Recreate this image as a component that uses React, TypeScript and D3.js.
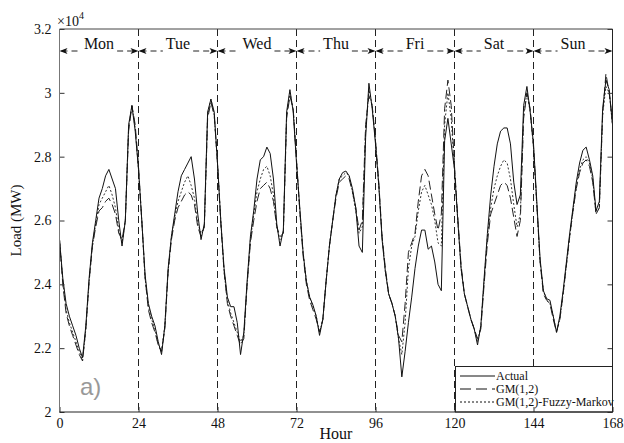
import { useEffect, useRef } from "react";
import * as d3 from "d3";

const days = ["Mon", "Tue", "Wed", "Thu", "Fri", "Sat", "Sun"];
const xTicks = [0, 24, 48, 72, 96, 120, 144, 168];
const yTicks = [2, 2.2, 2.4, 2.6, 2.8, 3, 3.2];
const seriesNames = ["Actual", "GM(1,2)", "GM(1,2)-Fuzzy-Markov"];

// hourly load in 10^4 MW, hour 0 .. 168
const actual = [
  2.54, 2.42, 2.34, 2.30, 2.27, 2.24, 2.20, 2.17, 2.27, 2.42, 2.53, 2.60, 2.67, 2.70, 2.74, 2.76, 2.73, 2.70, 2.60, 2.52, 2.60, 2.90, 2.96, 2.88,
  2.76, 2.60, 2.43, 2.34, 2.30, 2.27, 2.22, 2.18, 2.27, 2.45, 2.55, 2.62, 2.69, 2.74, 2.76, 2.78, 2.80, 2.73, 2.62, 2.54, 2.59, 2.94, 2.98, 2.94,
  2.78, 2.60, 2.45, 2.36, 2.33, 2.33, 2.28, 2.18, 2.25, 2.41, 2.55, 2.63, 2.73, 2.79, 2.80, 2.83, 2.81, 2.73, 2.59, 2.52, 2.57, 2.94, 3.01, 2.94,
  2.78, 2.64, 2.50, 2.41, 2.36, 2.335, 2.30, 2.24, 2.29, 2.41, 2.52, 2.60, 2.68, 2.73, 2.75, 2.755, 2.74, 2.70, 2.64, 2.52, 2.50, 2.86, 3.03, 2.95,
  2.84, 2.71, 2.54, 2.44, 2.37, 2.34, 2.30, 2.23, 2.11, 2.19, 2.28, 2.36, 2.45, 2.52, 2.57, 2.57, 2.51, 2.52, 2.47, 2.40, 2.38, 2.85, 2.92, 2.84,
  2.76, 2.60, 2.45, 2.37, 2.33, 2.29, 2.26, 2.21, 2.27, 2.42, 2.56, 2.68, 2.77, 2.84, 2.88, 2.89, 2.89, 2.84, 2.72, 2.65, 2.68, 2.96, 3.02, 2.94,
  2.84, 2.66, 2.48, 2.38, 2.355, 2.35, 2.30, 2.25, 2.30, 2.38, 2.47, 2.56, 2.64, 2.72, 2.78, 2.82, 2.83, 2.79, 2.74, 2.63, 2.66, 2.95, 3.04, 3.01,
  2.90,
];

const gm12 = [
  2.54, 2.40, 2.31, 2.27, 2.24, 2.21, 2.18, 2.16, 2.26, 2.41, 2.52, 2.58, 2.63, 2.64, 2.66, 2.67, 2.65, 2.62, 2.56, 2.54, 2.60, 2.88, 2.96, 2.90,
  2.77, 2.60, 2.42, 2.32, 2.28, 2.25, 2.21, 2.19, 2.26, 2.44, 2.54, 2.60, 2.64, 2.66, 2.68, 2.69, 2.68, 2.65, 2.58, 2.55, 2.58, 2.92, 2.97, 2.93,
  2.78, 2.59, 2.44, 2.34, 2.30, 2.27, 2.24, 2.21, 2.23, 2.40, 2.53, 2.60, 2.66, 2.70, 2.71, 2.72, 2.70, 2.66, 2.58, 2.55, 2.56, 2.92, 2.99, 2.95,
  2.79, 2.63, 2.49, 2.40, 2.35, 2.32, 2.29, 2.25, 2.29, 2.41, 2.52, 2.60, 2.67, 2.72, 2.73, 2.74, 2.73, 2.69, 2.64, 2.57, 2.60, 2.90, 2.99, 2.96,
  2.85, 2.72, 2.55, 2.45, 2.37, 2.34, 2.30, 2.24, 2.22, 2.34, 2.50, 2.53, 2.56, 2.66, 2.74, 2.76, 2.74, 2.68, 2.62, 2.57, 2.62, 2.95, 3.04, 2.96,
  2.77, 2.61, 2.46, 2.37, 2.33, 2.29, 2.26, 2.23, 2.26, 2.40, 2.53, 2.62, 2.65, 2.68, 2.71, 2.72, 2.71, 2.67, 2.61, 2.55, 2.60, 2.92, 3.00, 2.95,
  2.83, 2.65, 2.47, 2.37, 2.35, 2.34, 2.29, 2.25, 2.29, 2.37, 2.46, 2.55, 2.63, 2.70, 2.75, 2.78, 2.79, 2.77, 2.72, 2.62, 2.64, 2.93, 3.06, 3.00,
  2.91,
];

const gmFuzzyMarkov = [
  2.54, 2.41, 2.32, 2.28, 2.25, 2.22, 2.19, 2.16, 2.26, 2.41, 2.52, 2.59, 2.65, 2.67, 2.69, 2.71, 2.68, 2.64, 2.57, 2.53, 2.60, 2.89, 2.96, 2.89,
  2.76, 2.60, 2.42, 2.33, 2.29, 2.26, 2.21, 2.19, 2.27, 2.44, 2.55, 2.61, 2.66, 2.69, 2.72, 2.74, 2.71, 2.67, 2.59, 2.56, 2.58, 2.93, 2.98, 2.93,
  2.78, 2.60, 2.44, 2.35, 2.31, 2.28, 2.25, 2.22, 2.24, 2.40, 2.54, 2.62, 2.69, 2.73, 2.76, 2.77, 2.74, 2.68, 2.58, 2.54, 2.56, 2.93, 3.00, 2.95,
  2.79, 2.63, 2.50, 2.41, 2.36, 2.33, 2.30, 2.25, 2.29, 2.41, 2.52, 2.60, 2.68, 2.73, 2.74, 2.75, 2.74, 2.69, 2.63, 2.56, 2.58, 2.88, 3.01, 2.96,
  2.85, 2.71, 2.55, 2.44, 2.37, 2.34, 2.30, 2.23, 2.18, 2.28, 2.45, 2.52, 2.55, 2.63, 2.69, 2.71, 2.68, 2.65, 2.60, 2.53, 2.52, 2.90, 3.00, 2.92,
  2.76, 2.60, 2.45, 2.37, 2.33, 2.29, 2.26, 2.22, 2.27, 2.41, 2.55, 2.64, 2.70, 2.74, 2.77, 2.79, 2.78, 2.73, 2.65, 2.58, 2.62, 2.93, 3.00, 2.94,
  2.83, 2.65, 2.47, 2.38, 2.35, 2.34, 2.30, 2.25, 2.29, 2.37, 2.46, 2.55, 2.63, 2.71, 2.76, 2.79, 2.80, 2.78, 2.73, 2.62, 2.64, 2.93, 3.02, 3.00,
  2.90,
];

const serif = "'Liberation Serif', 'Times New Roman', serif";

export default function App() {
  const svgRef = useRef<SVGSVGElement>(null);

  useEffect(() => {
    if (!svgRef.current) return;
    const svg = d3.select(svgRef.current);
    svg.selectAll("*").remove();

    const W = 624, H = 443;
    const margin = { top: 29, right: 11.5, bottom: 31, left: 59.5 };

    const x = d3.scaleLinear().domain([0, 168]).range([margin.left, W - margin.right]);
    const y = d3.scaleLinear().domain([2, 3.2]).range([H - margin.bottom, margin.top]);

    const x0 = x(0), x1 = x(168), yTop = y(3.2), yBot = y(2);

    // day dividers
    svg.append("g")
      .selectAll("line")
      .data(xTicks.slice(1, -1))
      .enter()
      .append("line")
      .attr("x1", d => x(d)).attr("x2", d => x(d))
      .attr("y1", yTop).attr("y2", yBot)
      .attr("stroke", "#222")
      .attr("stroke-width", 1)
      .attr("stroke-dasharray", "7,4");

    // day labels with double arrows
    const yA = 51;
    const dayG = svg.append("g");
    days.forEach((name, i) => {
      const a = x(i * 24), b = x((i + 1) * 24);
      const cx = (a + b) / 2;
      const t = dayG.append("text")
        .attr("x", cx).attr("y", yA - 2)
        .attr("text-anchor", "middle")
        .attr("font-family", serif)
        .attr("font-size", 16)
        .attr("fill", "#111")
        .text(name);
      const tw = (t.node() as SVGTextElement).getComputedTextLength();
      const segs = [[a + 2, cx - tw / 2 - 3], [cx + tw / 2 + 3, b - 2]];
      segs.forEach(([s, e]) => {
        dayG.append("line")
          .attr("x1", s).attr("x2", e)
          .attr("y1", yA).attr("y2", yA)
          .attr("stroke", "#222")
          .attr("stroke-dasharray", "6,4");
      });
      // arrowheads
      dayG.append("path")
        .attr("d", `M${a},${yA} L${a + 8},${yA - 3} L${a + 6},${yA} L${a + 8},${yA + 3} Z`)
        .attr("fill", "#111");
      dayG.append("path")
        .attr("d", `M${b},${yA} L${b - 8},${yA - 3} L${b - 6},${yA} L${b - 8},${yA + 3} Z`)
        .attr("fill", "#111");
    });

    // series
    const line = d3.line<number>()
      .x((d, i) => x(i))
      .y(d => y(d));

    const styles = [
      { data: gmFuzzyMarkov, dash: "2,2", color: "#333" },
      { data: gm12, dash: "9,4", color: "#222" },
      { data: actual, dash: null, color: "#111" },
    ];
    styles.forEach(s => {
      svg.append("path")
        .datum(s.data)
        .attr("fill", "none")
        .attr("stroke", s.color)
        .attr("stroke-width", 1)
        .attr("stroke-dasharray", s.dash)
        .attr("stroke-linejoin", "round")
        .attr("d", line);
    });

    // "a)" tag
    svg.append("text")
      .attr("x", 80).attr("y", 395)
      .attr("font-family", "'Liberation Sans', Arial, sans-serif")
      .attr("font-size", 24)
      .attr("fill", "#999")
      .text("a)");

    // legend
    const lg = svg.append("g");
    lg.append("rect")
      .attr("x", 455.5).attr("y", 366.5)
      .attr("width", x1 - 455.5).attr("height", yBot - 366.5)
      .attr("fill", "#fff")
      .attr("stroke", "#222");
    const legendDash = [null, "11,5", "2,2"];
    seriesNames.forEach((name, i) => {
      const ly = 376 + i * 13;
      lg.append("line")
        .attr("x1", 460).attr("x2", 495)
        .attr("y1", ly).attr("y2", ly)
        .attr("stroke", "#111")
        .attr("stroke-dasharray", legendDash[i]);
      lg.append("text")
        .attr("x", 496).attr("y", ly + 4)
        .attr("font-family", serif)
        .attr("font-size", 12)
        .attr("fill", "#111")
        .text(name);
    });

    // axes
    const fmt = d3.format(".1~f");
    const yAxis = svg.append("g")
      .attr("transform", `translate(${x0},0)`)
      .call(d3.axisLeft(y).tickValues(yTicks).tickFormat(d => fmt(d as number)).tickSizeInner(-5).tickSizeOuter(0).tickPadding(8));
    const yAxisR = svg.append("g")
      .attr("transform", `translate(${x1},0)`)
      .call(d3.axisRight(y).tickValues(yTicks).tickFormat(() => "").tickSizeInner(-5).tickSizeOuter(0));
    const xAxis = svg.append("g")
      .attr("transform", `translate(0,${yBot})`)
      .call(d3.axisBottom(x).tickValues(xTicks).tickSizeInner(-5).tickSizeOuter(0).tickPadding(6));
    [yAxis, yAxisR, xAxis].forEach(g => {
      g.select(".domain").remove();
      g.selectAll("line").attr("stroke", "#333");
      g.selectAll("text")
        .attr("font-family", serif)
        .attr("font-size", 14)
        .attr("fill", "#111");
    });

    // frame
    svg.append("line").attr("x1", x0).attr("x2", x0).attr("y1", yTop).attr("y2", yBot).attr("stroke", "#777");
    svg.append("line").attr("x1", x1).attr("x2", x1).attr("y1", yTop).attr("y2", yBot).attr("stroke", "#222");
    svg.append("line").attr("x1", x0).attr("x2", x1).attr("y1", yTop).attr("y2", yTop).attr("stroke", "#444");
    svg.append("line").attr("x1", x0).attr("x2", x1).attr("y1", yBot).attr("y2", yBot).attr("stroke", "#222");

    // exponent
    const ex = svg.append("text")
      .attr("x", 57).attr("y", 26)
      .attr("font-family", serif)
      .attr("font-size", 14)
      .attr("fill", "#111")
      .text("\u00d710");
    ex.append("tspan").attr("dy", -7).attr("font-size", 10).text("4");

    // axis titles
    svg.append("text")
      .attr("x", (x0 + x1) / 2).attr("y", 439)
      .attr("text-anchor", "middle")
      .attr("font-family", serif)
      .attr("font-size", 16)
      .attr("fill", "#111")
      .text("Hour");
    svg.append("text")
      .attr("transform", `translate(21,${(yTop + yBot) / 2}) rotate(-90)`)
      .attr("text-anchor", "middle")
      .attr("font-family", serif)
      .attr("font-size", 15)
      .attr("fill", "#111")
      .text("Load (MW)");
  }, []);

  return (
    <svg
      ref={svgRef}
      width={624}
      height={443}
      style={{ position: "absolute", left: 0, top: 0, background: "#fff" }}
    />
  );
}
